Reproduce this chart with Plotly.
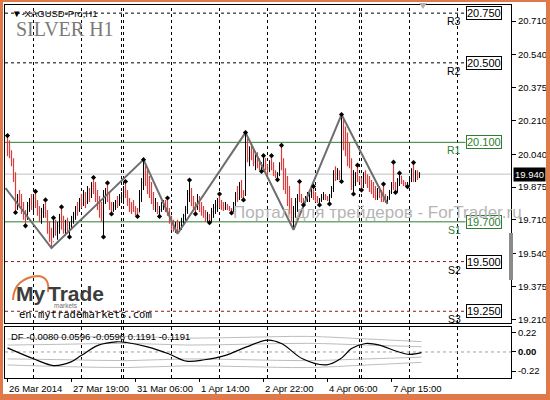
import plotly.graph_objects as go

# ---------------- data ----------------
first_open = 20.060
highs = [20.134,20.110,20.060,20.020,19.950,19.840,19.860,19.840,19.800,19.760,
         19.800,19.820,19.840,19.830,19.853,19.810,19.780,19.770,19.790,19.810,
         19.760,19.700,19.670,19.720,19.710,19.700,19.740,19.775,19.730,19.710,
         19.720,19.700,19.730,19.750,19.780,19.800,19.820,19.840,19.860,19.850,
         19.880,19.870,19.900,19.923,19.900,19.860,19.830,19.800,19.860,19.870,
         19.896,19.850,19.800,19.800,19.810,19.830,19.840,19.850,19.880,19.903,
         19.860,19.820,19.800,19.810,19.780,19.770,19.860,19.920,20.013,19.990,
         19.960,19.930,19.900,19.850,19.820,19.800,19.780,19.800,19.810,19.810,
         19.820,19.770,19.730,19.710,19.700,19.710,19.700,19.720,19.740,19.780,
         19.860,19.910,19.870,19.830,19.800,19.840,19.830,19.800,19.780,19.760,
         19.750,19.740,19.770,19.790,19.810,19.820,19.840,19.810,19.800,19.800,
         19.790,19.780,19.770,19.800,19.850,19.880,19.900,19.910,19.860,20.149,
         20.120,20.080,20.100,20.070,20.040,20.050,20.020,20.000,20.033,20.020,
         19.990,20.010,20.033,20.000,19.960,19.950,20.000,20.085,20.020,19.970,
         19.930,19.880,19.820,19.780,19.820,19.840,19.903,19.840,19.820,19.830,
         19.850,19.860,19.870,19.878,19.850,19.830,19.820,19.840,19.850,19.840,
         19.830,19.840,19.880,19.960,19.980,19.970,19.960,20.240,20.220,20.180,
         20.150,20.100,20.020,19.960,19.950,19.985,19.930,19.920,19.950,19.960,
         19.940,19.930,19.910,19.900,19.880,19.870,19.880,19.860,19.890,19.840,
         19.830,19.860,19.900,20.000,19.900,19.920,19.945,19.930,19.910,19.900,
         19.900,19.930,19.970,19.998,19.960,19.960,19.950]
lows = [20.030,20.020,19.980,19.900,19.747,19.760,19.770,19.740,19.710,19.680,
        19.710,19.750,19.760,19.740,19.770,19.730,19.700,19.690,19.720,19.720,
        19.640,19.600,19.568,19.620,19.630,19.610,19.640,19.660,19.640,19.630,
        19.640,19.624,19.660,19.690,19.710,19.730,19.750,19.770,19.780,19.770,
        19.790,19.800,19.820,19.840,19.800,19.760,19.720,19.700,19.624,19.790,
        19.800,19.760,19.740,19.750,19.760,19.770,19.780,19.800,19.790,19.820,
        19.780,19.750,19.740,19.750,19.730,19.727,19.750,19.800,19.860,19.880,
        19.840,19.820,19.790,19.760,19.750,19.740,19.727,19.750,19.760,19.750,
        19.730,19.690,19.660,19.650,19.645,19.640,19.650,19.660,19.680,19.700,
        19.740,19.800,19.780,19.760,19.740,19.760,19.750,19.730,19.720,19.700,
        19.700,19.696,19.700,19.720,19.740,19.750,19.770,19.760,19.755,19.760,
        19.760,19.755,19.745,19.750,19.780,19.800,19.810,19.820,19.810,19.830,
        20.000,19.980,20.010,19.980,19.960,19.970,19.960,19.954,19.970,19.960,
        19.930,19.950,19.960,19.930,19.920,19.912,19.930,19.960,19.860,19.840,
        19.780,19.740,19.700,19.660,19.720,19.750,19.800,19.795,19.785,19.795,
        19.800,19.800,19.820,19.810,19.800,19.795,19.785,19.800,19.810,19.810,
        19.805,19.790,19.820,19.850,19.905,19.910,19.910,19.903,20.060,20.030,
        19.980,19.970,19.860,19.840,19.880,19.900,19.900,19.860,19.870,19.890,
        19.870,19.850,19.840,19.820,19.810,19.810,19.820,19.800,19.800,19.795,
        19.790,19.810,19.840,19.860,19.848,19.850,19.880,19.890,19.880,19.878,
        19.877,19.880,19.900,19.900,19.900,19.910,19.920]
closes = [20.050,20.030,19.990,19.920,19.780,19.820,19.800,19.760,19.730,19.720,
          19.780,19.800,19.780,19.820,19.790,19.750,19.720,19.750,19.770,19.740,
          19.660,19.630,19.600,19.700,19.650,19.680,19.720,19.680,19.660,19.690,
          19.660,19.680,19.720,19.740,19.770,19.760,19.810,19.790,19.840,19.800,
          19.860,19.840,19.880,19.860,19.820,19.780,19.740,19.720,19.830,19.850,
          19.820,19.780,19.760,19.780,19.800,19.790,19.820,19.830,19.850,19.840,
          19.790,19.770,19.765,19.760,19.750,19.745,19.840,19.900,19.950,19.900,
          19.860,19.840,19.800,19.780,19.790,19.750,19.760,19.780,19.800,19.760,
          19.740,19.700,19.680,19.670,19.690,19.660,19.680,19.700,19.730,19.760,
          19.840,19.850,19.800,19.780,19.770,19.810,19.770,19.750,19.740,19.720,
          19.730,19.710,19.750,19.770,19.780,19.800,19.790,19.770,19.770,19.780,
          19.770,19.760,19.760,19.790,19.840,19.820,19.880,19.840,19.840,20.080,
          20.020,20.050,20.030,20.000,20.010,19.990,19.970,19.990,20.020,19.970,
          19.970,20.000,19.980,19.940,19.930,19.940,19.990,19.980,19.880,19.860,
          19.800,19.760,19.720,19.740,19.800,19.820,19.810,19.810,19.800,19.820,
          19.830,19.840,19.850,19.820,19.810,19.800,19.810,19.820,19.830,19.820,
          19.810,19.830,19.870,19.940,19.920,19.950,19.930,20.180,20.080,20.060,
          20.000,19.990,19.880,19.900,19.930,19.920,19.910,19.880,19.930,19.910,
          19.890,19.870,19.860,19.840,19.830,19.850,19.840,19.820,19.810,19.800,
          19.820,19.850,19.880,19.870,19.860,19.910,19.930,19.900,19.890,19.880,
          19.890,19.920,19.930,19.920,19.950,19.930,19.940]
opens = [first_open] + closes[:-1]
bar_index = list(range(len(highs)))

fractal_up = [0, 14, 19, 23, 27, 43, 50, 59, 68, 80, 91, 106, 119, 128, 132, 137,
              146, 153, 167, 175, 188, 193, 196, 203]
fractal_dn = [4, 9, 31, 48, 52, 65, 76, 94, 101, 112, 118, 127, 135, 148, 156,
              161, 167, 173, 177, 194, 200]

zigzag_idx = [-1, 22, 68, 85, 119, 143, 167, 190]
zigzag_val = [19.870, 19.568, 20.013, 19.640, 20.149, 19.660, 20.240, 19.790]

pivot_names = ["R3", "R2", "R1", "S1", "S2", "S3"]
pivot_values = [20.750, 20.500, 20.100, 19.700, 19.500, 19.250]
pivot_colors = ["#000000", "#000000", "#2e7d32", "#2e7d32", "#8b1a1a", "#8b1a1a"]
pivot_dash = ["dash", "dash", "solid", "solid", "dash", "dash"]
last_price = 19.940

separators = [13, 37, 57, 58, 82, 106, 130, 154, 176, 177, 201, 225]
x_label_idx = [0, 32, 64, 96, 128, 160, 192]
x_labels = ["26 Mar 2014", "27 Mar 19:00", "31 Mar 06:00", "1 Apr 14:00",
            "2 Apr 22:00", "4 Apr 06:00", "7 Apr 15:00"]
price_ticks = [20.710, 20.540, 20.375, 20.210, 20.040, 19.875, 19.710, 19.540, 19.375, 19.210]

df_idx = [0, 13, 23, 31.5, 37, 45.5, 54.5, 59.5, 70, 80.5, 89.5, 98.5, 109, 119.5,
          130, 137, 147.5, 159.5, 166.5, 172, 179, 186, 194.5, 201, 207]
df_val = [0.047, -0.079, -0.157, -0.118, -0.039, 0.079, 0.118, 0.110, 0.059, -0.020,
          -0.106, -0.090, -0.039, 0.059, 0.138, 0.098, -0.079, -0.149, -0.079, 0.039,
          0.098, 0.079, 0.008, -0.028, -0.008]
band_idx = [0, 30, 60, 90, 120, 150, 180, 207]
band_outer_up = [0.15, 0.17, 0.18, 0.16, 0.17, 0.18, 0.15, 0.12]
band_inner_up = [0.08, 0.09, 0.10, 0.08, 0.09, 0.10, 0.08, 0.06]
band_inner_dn = [-0.08, -0.09, -0.10, -0.08, -0.09, -0.10, -0.08, -0.06]
band_outer_dn = [-0.15, -0.17, -0.18, -0.16, -0.17, -0.18, -0.15, -0.12]

# ---------------- layout helpers ----------------
W, H = 550, 400
L, R, T, B = 5, 39, 5, 22
PW, PH = W - L - R, H - T - B
def px(x):
    return (x - L) / PW
def py(y):
    return (H - B - y) / PH

FONT = "Liberation Sans, Arial, sans-serif"
UP, DN = "#000000", "#dc3c3c"
XR = [-1.25, 251.75]
BOX_X = 229

fig = go.Figure()

fig.add_trace(go.Ohlc(
    x=bar_index, open=opens, high=highs, low=lows, close=closes,
    increasing=dict(line=dict(color=UP, width=1)),
    decreasing=dict(line=dict(color=DN, width=1.2)),
    tickwidth=0.3, xaxis="x", yaxis="y", showlegend=False, hoverinfo="skip"))

fig.add_trace(go.Scatter(
    x=zigzag_idx, y=zigzag_val, mode="lines",
    line=dict(color="#6e6e6e", width=2), xaxis="x", yaxis="y",
    showlegend=False, hoverinfo="skip"))

fig.add_trace(go.Scatter(
    x=fractal_up, y=[highs[i] for i in fractal_up], mode="markers",
    marker=dict(symbol="diamond", size=4, color="black"),
    xaxis="x", yaxis="y", showlegend=False, hoverinfo="skip"))
fig.add_trace(go.Scatter(
    x=fractal_dn, y=[lows[i] for i in fractal_dn], mode="markers",
    marker=dict(symbol="diamond", size=4, color="black"),
    xaxis="x", yaxis="y", showlegend=False, hoverinfo="skip"))

for band in (band_outer_up, band_inner_up, band_inner_dn, band_outer_dn):
    fig.add_trace(go.Scatter(
        x=band_idx, y=band, mode="lines", line=dict(color="#bdbdbd", width=1, shape="spline"),
        xaxis="x2", yaxis="y2", showlegend=False, hoverinfo="skip"))
fig.add_trace(go.Scatter(
    x=df_idx, y=df_val, mode="lines", line=dict(color="black", width=1.2, shape="spline"),
    xaxis="x2", yaxis="y2", showlegend=False, hoverinfo="skip"))

shapes = []
for s in separators:
    for yr in ("y domain", "y2 domain"):
        shapes.append(dict(type="line", xref="x", yref=yr, x0=s, x1=s, y0=0, y1=1,
                           line=dict(color="black", width=1, dash="3px,3px"), layer="below"))
shapes.append(dict(type="line", xref="x", yref="y", x0=XR[0], x1=XR[1], y0=last_price, y1=last_price,
                   line=dict(color="#c0c0c0", width=1), layer="below"))
for v, c, d in zip(pivot_values, pivot_colors, pivot_dash):
    shapes.append(dict(type="line", xref="x", yref="y", x0=XR[0], x1=BOX_X, y0=v, y1=v,
                       line=dict(color=c, width=1, dash="3px,3px" if d == "dash" else "solid"),
                       layer="below"))
shapes.append(dict(type="line", xref="x2", yref="y2", x0=XR[0], x1=XR[1], y0=0, y1=0,
                   line=dict(color="#a0a0a0", width=1, dash="3px,3px"), layer="below"))
shapes.append(dict(type="rect", xref="paper", yref="paper", x0=px(509), x1=px(513),
                   y0=py(280), y1=py(233), fillcolor="#8a8a8a", line=dict(width=0)))
shapes.append(dict(type="path", xref="paper", yref="paper",
                   path=f"M {px(419)},{py(3)} L {px(427)},{py(3)} L {px(423)},{py(9)} Z",
                   fillcolor="#b0b0b0", line=dict(width=0)))
shapes.append(dict(type="path", xref="paper", yref="paper",
                   path=f"M {px(13)},{py(300)} Q {px(14)},{py(278)} {px(38)},{py(276)} Q {px(50)},{py(277)} {px(48)},{py(292)}",
                   line=dict(color="#e07a40", width=2)))
frame = "#e0784a"
for (x0, x1, y0, y1) in [(0, 3, 0, 400), (546, 550, 0, 400), (0, 550, 0, 2), (0, 550, 394, 400)]:
    shapes.append(dict(type="rect", xref="paper", yref="paper", x0=px(x0), x1=px(x1),
                       y0=py(y1), y1=py(y0), fillcolor=frame, line=dict(width=0)))

ann = []
for name, v, c in zip(pivot_names, pivot_values, pivot_colors):
    tc = "#2e7d32" if c == "#2e7d32" else "black"
    ann.append(dict(x=BOX_X, y=v, xref="x", yref="y", text=f"{v:.3f}", showarrow=False,
                    xanchor="left", yanchor="middle", font=dict(family=FONT, size=11, color=tc),
                    bgcolor="white", bordercolor=tc, borderwidth=1, borderpad=0))
    ann.append(dict(x=BOX_X - 1.5, y=v, xref="x", yref="y", text=name, showarrow=False,
                    xanchor="right", yanchor="middle", yshift=-8,
                    font=dict(family=FONT, size=10.5, color=tc)))
ann.append(dict(x=1, y=last_price, xref="paper", yref="y", text=f"{last_price:.3f}",
                showarrow=False, xanchor="left", yanchor="middle", xshift=2,
                font=dict(family=FONT, size=9.5, color="white"), bgcolor="black", borderpad=1))
for i, t in zip(x_label_idx, x_labels):
    ann.append(dict(x=i, y=py(388), xref="x2", yref="paper", text=t, showarrow=False,
                    xanchor="left", yanchor="middle", xshift=-1,
                    font=dict(family=FONT, size=9.5, color="black")))
ann.append(dict(x=px(10), y=py(13), xref="paper", yref="paper", text="▼-XAGUSD-Pro,H1",
                showarrow=False, xanchor="left", yanchor="middle",
                font=dict(family=FONT, size=9.5, color="black")))
ann.append(dict(x=px(14), y=py(29), xref="paper", yref="paper", text="SILVER H1",
                showarrow=False, xanchor="left", yanchor="middle",
                font=dict(family="Liberation Serif, serif", size=20, color="#7a7a7a")))
ann.append(dict(x=px(231), y=py(213), xref="paper", yref="paper",
                text="Портал для трейдеров - ForTrader.ru", showarrow=False,
                xanchor="left", yanchor="middle",
                font=dict(family=FONT, size=17, color="#b5b5b5")))
ann.append(dict(x=px(14), y=py(293), xref="paper", yref="paper", text="<b>My</b>",
                showarrow=False, xanchor="left", yanchor="middle",
                font=dict(family=FONT, size=21, color="#3c3c3c")))
ann.append(dict(x=px(46), y=py(293), xref="paper", yref="paper", text="<b>Trade</b>",
                showarrow=False, xanchor="left", yanchor="middle",
                font=dict(family=FONT, size=21, color="#3c3c3c")))
ann.append(dict(x=px(52), y=py(305), xref="paper", yref="paper", text="markets",
                showarrow=False, xanchor="left", yanchor="middle",
                font=dict(family=FONT, size=6.5, color="#707070")))
ann.append(dict(x=px(17), y=py(314), xref="paper", yref="paper", text="en.mytrademarkets.com",
                showarrow=False, xanchor="left", yanchor="middle",
                font=dict(family="DejaVu Sans Mono, monospace", size=10.5, color="black")))
ann.append(dict(x=px(9), y=py(336), xref="paper", yref="paper",
                text="DF -0.0080 0.0596 -0.0596 0.1191 -0.1191", showarrow=False,
                xanchor="left", yanchor="middle", font=dict(family=FONT, size=9.5, color="black")))

axis_common = dict(showgrid=False, zeroline=False, showline=True, mirror=True,
                   linecolor="black", linewidth=1, automargin=False)
fig.update_layout(
    width=W, height=H, margin=dict(l=L, r=R, t=T, b=B, autoexpand=False),
    paper_bgcolor="white", plot_bgcolor="white", showlegend=False,
    xaxis=dict(domain=[0, 1], range=XR, anchor="y", showticklabels=False,
               ticks="", rangeslider=dict(visible=False), **axis_common),
    yaxis=dict(domain=[py(323), 1], range=[19.191, 20.791], side="right",
               tickvals=price_ticks, ticktext=[f"{v:.3f}" for v in price_ticks],
               ticks="outside", ticklen=4, tickcolor="black",
               tickfont=dict(family=FONT, size=9.5, color="black"), **axis_common),
    xaxis2=dict(domain=[0, 1], range=XR, anchor="y2", matches="x",
                tickvals=x_label_idx, ticks="outside", ticklen=3, tickcolor="black",
                showticklabels=False, rangeslider=dict(visible=False), **axis_common),
    yaxis2=dict(domain=[0, py(327)], range=[-0.301, 0.289], side="right", anchor="x2",
                tickvals=[0.22, 0.0, -0.22], ticktext=["0.22", "<b>0.00</b>", "-0.22"],
                ticks="outside", ticklen=4, tickcolor="black",
                tickfont=dict(family=FONT, size=9.5, color="black"), **axis_common),
    shapes=shapes, annotations=ann,
)

fig.write_html("out.html", config={"displayModeBar": False},
               post_script="document.body.style.margin='0';document.body.style.padding='0';")
